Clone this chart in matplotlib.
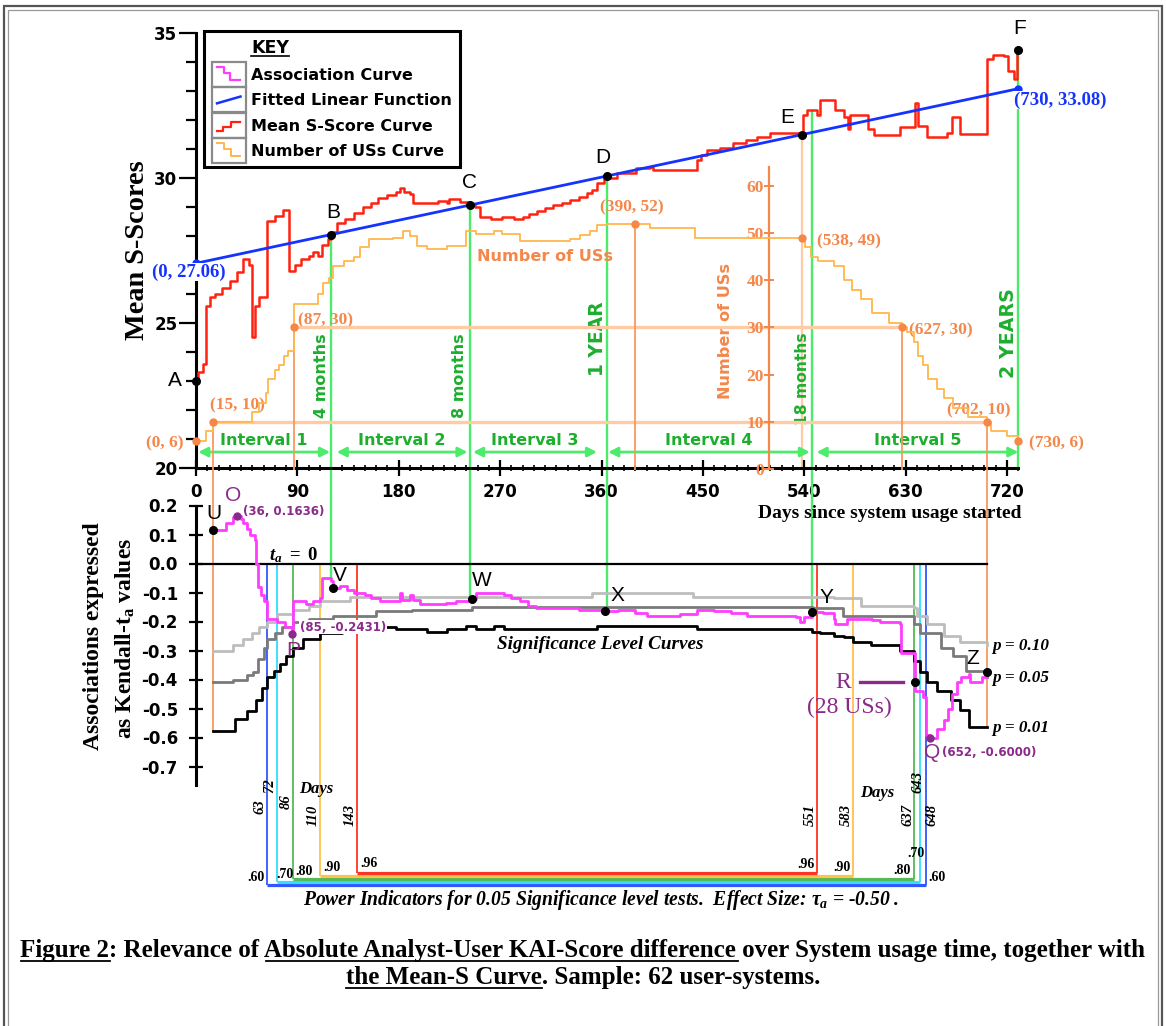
import numpy as np
import matplotlib
matplotlib.use("Agg")
import matplotlib.pyplot as plt
from matplotlib.lines import Line2D
from matplotlib.patches import Rectangle
from matplotlib.legend_handler import HandlerBase
from matplotlib.ticker import FixedLocator, FormatStrFormatter

plt.rcParams.update({
    "font.family": ["DejaVu Sans"],
    "font.weight": "bold",
    "mathtext.fontset": "custom",
    "mathtext.rm": "Liberation Serif:bold",
    "mathtext.it": "Liberation Serif:italic:bold",
    "mathtext.bf": "Liberation Serif:bold",
    "axes.unicode_minus": False,
})

# ---------------------------------------------------------------- data
mean_s_days = [0, 2, 6, 9, 12, 17, 23, 30, 36, 42, 47, 50, 52, 56, 63, 70, 77, 83, 88, 93,
               100, 104, 108, 112, 117, 120, 125, 132, 140, 148, 155, 162, 170, 178, 181, 185,
               190, 193, 215, 223, 225, 234, 243, 248, 252, 262, 272, 282, 290, 296, 303, 310,
               317, 325, 332, 340, 347, 352, 356, 362, 374, 391, 403, 406, 421, 445, 448, 454,
               465, 477, 488, 498, 510, 539, 542, 551, 554, 567, 575, 579, 581, 597, 602, 625,
               638, 641, 649, 667, 671, 678, 702, 708, 717, 721, 726, 729, 730]
mean_s_vals = [23.0, 23.3, 23.6, 25.6, 25.9, 26.0, 26.2, 26.45, 26.75, 27.2, 27.0, 24.5, 25.6, 25.9,
               28.5, 28.7, 28.9, 26.8, 27.0, 27.2, 27.3, 27.45, 27.3, 27.7, 27.9, 28.15, 28.45,
               28.6, 28.8, 29.0, 29.15, 29.3, 29.42, 29.5, 29.65, 29.5, 29.45, 29.14, 29.2, 29.14,
               29.26, 29.18, 29.1, 29.0, 28.67, 28.6, 28.65, 28.6, 28.67, 28.75, 28.85, 28.95,
               29.07, 29.15, 29.24, 29.35, 29.47, 29.6, 29.82, 30.0, 30.17, 30.34, 30.39, 30.28,
               30.28, 30.62, 30.79, 30.97, 31.05, 31.2, 31.3, 31.42, 31.54, 32.17, 32.34, 32.17,
               32.7, 32.34, 32.1, 31.7, 32.17, 31.7, 31.48, 31.77, 32.6, 31.8, 31.4, 31.55, 32.1,
               31.5, 34.1, 34.24, 34.2, 33.7, 33.4, 34.4, 34.4]

fit_days = [0, 730]
fit_vals = [27.06, 33.08]

uss_days = [0, 9, 15, 50, 56, 62, 64, 70, 74, 78, 82, 87, 108, 113, 118, 122, 131, 140, 146, 154,
            175, 184, 190, 196, 205, 223, 240, 249, 265, 272, 288, 332, 341, 350, 356, 365, 403,
            443, 538, 541, 546, 552, 566, 575, 582, 590, 600, 615, 627, 631, 637, 641, 645, 650,
            658, 664, 672, 685, 702, 706, 720, 730]
uss_vals = [6, 8, 10, 12, 14, 16, 19, 21, 22, 24, 25, 35, 37, 39.5, 40.5, 43, 44, 45, 47, 48.7,
            49, 50.5, 49.4, 47.3, 46.6, 47.3, 50.5, 49.8, 50.5, 49.8, 48.4, 48.8, 49.5, 50.5, 51.7,
            52, 51, 49, 49, 47, 45, 44, 43, 40, 38, 36, 33, 31, 30, 29, 27, 24, 22, 19, 17, 15,
            13, 11, 10, 8, 7, 6]

assoc_days = [15, 27, 33, 37, 40, 42, 45, 48, 52, 53, 55, 58, 60, 63, 72, 79, 85, 86, 98, 104,
              110, 112, 120, 122, 128, 134, 140, 150, 155, 163, 178, 181, 183, 190, 193, 199, 208,
              222, 231, 245, 249, 264, 273, 280, 288, 295, 302, 340, 363, 375, 390, 400, 430, 445,
              460, 475, 489, 510, 533, 536, 540, 547, 557, 566, 567, 578, 600, 607, 625, 626, 638,
              645, 648, 652, 658, 664, 668, 671, 676, 679, 686, 687, 698, 702]
assoc_vals = [0.117, 0.138, 0.159, 0.1636, 0.155, 0.14, 0.12, 0.10, 0.08, 0.0, -0.08, -0.11,
              -0.13, -0.19, -0.20, -0.22, -0.2431, -0.13, -0.14, -0.13, -0.12, -0.05, -0.06,
              -0.085, -0.076, -0.09, -0.10, -0.11, -0.12, -0.128, -0.13, -0.10, -0.125, -0.11,
              -0.125, -0.14, -0.139, -0.135, -0.128, -0.124, -0.10, -0.10, -0.11, -0.12, -0.13,
              -0.145, -0.155, -0.16, -0.164, -0.16, -0.17, -0.18, -0.175, -0.16, -0.165, -0.17,
              -0.18, -0.18, -0.185, -0.20, -0.185, -0.168, -0.17, -0.19, -0.21, -0.19, -0.195,
              -0.20, -0.21, -0.31, -0.44, -0.46, -0.59, -0.60, -0.57, -0.54, -0.50, -0.45, -0.41,
              -0.39, -0.38, -0.41, -0.39, -0.375]

p10_days = [15, 33, 42, 50, 56, 63, 72, 86, 100, 110, 137, 352, 441, 566, 590, 637, 640, 649,
            664, 678, 702]
p10_vals = [-0.30, -0.28, -0.26, -0.24, -0.22, -0.20, -0.175, -0.16, -0.145, -0.13, -0.117,
            -0.10, -0.115, -0.12, -0.145, -0.155, -0.18, -0.21, -0.25, -0.27, -0.28]
p05_days = [15, 33, 45, 51, 55, 60, 63, 70, 76, 86, 100, 122, 160, 192, 245, 548, 574, 637, 643,
            661, 672, 684, 702]
p05_vals = [-0.41, -0.40, -0.385, -0.375, -0.33, -0.29, -0.26, -0.24, -0.22, -0.20, -0.19, -0.18,
            -0.165, -0.16, -0.15, -0.155, -0.18, -0.21, -0.24, -0.29, -0.32, -0.37, -0.39]
p01_days = [15, 35, 45, 53, 59, 63, 69, 75, 80, 86, 95, 110, 130, 160, 178, 205, 223, 240, 249,
            265, 273, 356, 445, 547, 554, 566, 575, 583, 599, 625, 637, 643, 649, 658, 670, 678,
            686, 702]
p01_vals = [-0.576, -0.535, -0.51, -0.47, -0.43, -0.39, -0.37, -0.345, -0.32, -0.29, -0.26,
            -0.24, -0.23, -0.22, -0.225, -0.236, -0.225, -0.214, -0.225, -0.214, -0.225, -0.214,
            -0.225, -0.236, -0.24, -0.25, -0.255, -0.27, -0.28, -0.30, -0.335, -0.375, -0.41,
            -0.44, -0.47, -0.505, -0.565, -0.565]

day_ticks = [0, 90, 180, 270, 360, 450, 540, 630, 720]
s_ticks = [20, 25, 30, 35]
tau_ticks = [0.2, 0.1, 0.0, -0.1, -0.2, -0.3, -0.4, -0.5, -0.6, -0.7]
uss_ticks = [0, 10, 20, 30, 40, 50, 60]

milestone_days = [120, 243, 365, 547, 730]
milestone_labels = ["4 months", "8 months", "1 YEAR", "18 months", "2 YEARS"]
interval_labels = ["Interval 1", "Interval 2", "Interval 3", "Interval 4", "Interval 5"]
interval_starts = [2, 125, 246, 366, 551]
interval_ends = [119, 241, 356, 545, 730]

uss_point_days = [0, 15, 87, 390, 538, 627, 702, 730]
uss_point_vals = [6, 10, 30, 52, 49, 30, 10, 6]

upper_point_names = ["B", "C", "D", "E"]
upper_point_days = [120, 243, 365, 538]
a_point = (0, 23.0)
f_point = (730, 34.4)

lower_black_names = ["U", "V", "W", "X", "Y", "R", "Z"]
lower_black_days = [15, 122, 245, 363, 547, 638, 702]
lower_black_vals = [0.117, -0.085, -0.124, -0.164, -0.168, -0.41, -0.375]
lower_purple_names = ["O", "P", "Q"]
lower_purple_days = [36, 85, 652]
lower_purple_vals = [0.1636, -0.2431, -0.6000]

power_labels = [".60", ".70", ".80", ".90", ".96"]
power_left_days = [63, 72, 86, 110, 143]
power_right_days = [648, 643, 637, 583, 551]

# ---------------------------------------------------------------- styles
RED = "#FF2211"
BLUE = "#1533FF"
MAG = "#FF3DFF"
USS_C = "#FFB64C"
ORANGE = "#F4874A"
ORANGE_D = "#F79A5E"
ORANGE_L = "#FFCBA4"
GREEN_L = "#4DEB6C"
GREEN_T = "#1EAE2E"
PURPLE = "#8A2A8A"
POWER_COLORS = ["#3355FF", "#33DDFF", "#55B955", "#FFC24A", "#FF3322"]
SERIF = ["Liberation Serif", "DejaVu Serif"]
SANS = ["Liberation Sans", "DejaVu Sans"]

W, H = 1166, 1026
fig = plt.figure(figsize=(W / 100, H / 100), dpi=100)
fig.patch.set_facecolor("white")
renderer = fig.canvas.get_renderer()

X0_PX, PX_DAY = 196.0, 1.1264
AX_L, AX_R = 110, 1120
XLIM = ((AX_L - X0_PX) / PX_DAY, (AX_R - X0_PX) / PX_DAY)


def fig_rect(left, top, right, bottom):
    return [left / W, 1 - bottom / H, (right - left) / W, (bottom - top) / H]


def step_at(days, vals, d):
    i = int(np.searchsorted(days, d, side="right")) - 1
    return vals[max(i, 0)]


def fit_at(d):
    return float(np.interp(d, fit_days, fit_vals))


def measure(s, **kw):
    t = fig.text(0, 0, s, **kw)
    w = t.get_window_extent(renderer).width
    t.remove()
    return w


def fit_size(s, target, **kw):
    return 10.0 * target / measure(s, fontsize=10, **kw)


# ---------------------------------------------------------------- axes
UP_TOP, UP_BOT = 20, 470
S20_PX, PX_S = 468.0, 29.0
ax = fig.add_axes(fig_rect(AX_L, UP_TOP, AX_R, UP_BOT))
ax.set_xlim(XLIM)
ax.set_ylim(20 - (UP_BOT - S20_PX) / PX_S, 20 + (S20_PX - UP_TOP) / PX_S)
ax.patch.set_alpha(0)

axu = ax.twinx()
U0_PX, PX_U = 469.0, 4.72
axu.set_ylim((U0_PX - UP_BOT) / PX_U, (U0_PX - UP_TOP) / PX_U)
axu.patch.set_alpha(0)

LO_TOP, LO_BOT = 470, 915
T0_PX, PX_T = 563.5, 290.0
axl = fig.add_axes(fig_rect(AX_L, LO_TOP, AX_R, LO_BOT))
axl.set_xlim(XLIM)
axl.set_ylim((T0_PX - LO_BOT) / PX_T, (T0_PX - LO_TOP) / PX_T)
axl.patch.set_alpha(0)

# upper spines / ticks
for s in ["top", "right"]:
    ax.spines[s].set_visible(False)
ax.spines["left"].set_position(("data", 0))
ax.spines["left"].set_bounds(20, 35)
ax.spines["bottom"].set_position(("data", 20))
ax.spines["bottom"].set_bounds(0, 730)
for s in ["left", "bottom"]:
    ax.spines[s].set_linewidth(2.2)
ax.xaxis.set_major_locator(FixedLocator(day_ticks))
ax.xaxis.set_minor_locator(FixedLocator([d for d in range(0, 731, 10) if d % 90]))
ax.yaxis.set_major_locator(FixedLocator(s_ticks))
ax.yaxis.set_minor_locator(FixedLocator(list(range(20, 36))))
ax.tick_params(axis="x", which="major", direction="inout", length=11, width=1.6, pad=5, labelsize=12)
ax.tick_params(axis="x", which="minor", direction="inout", length=5, width=1.2)
ax.tick_params(axis="y", which="major", direction="out", length=12, width=1.6, pad=1.5, labelsize=12)
ax.tick_params(axis="y", which="minor", direction="out", length=7, width=1.6)

# USs axis
for s in ["top", "right", "bottom"]:
    axu.spines[s].set_visible(False)
axu.spines["left"].set_visible(True)
axu.spines["left"].set_position(("data", 509))
axu.spines["left"].set_bounds(0, 64)
axu.spines["left"].set_color(ORANGE)
axu.spines["left"].set_linewidth(1.6)
axu.yaxis.set_ticks_position("left")
axu.set_yticks(uss_ticks)
axu.tick_params(axis="y", direction="inout", length=7, width=1.4, colors=ORANGE, pad=0.5,
                labelsize=12.5, labelfontfamily="Liberation Serif")

# lower spines / ticks
for s in ["top", "right", "bottom"]:
    axl.spines[s].set_visible(False)
axl.spines["left"].set_position(("data", 0))
axl.spines["left"].set_bounds(-0.765, 0.2)
axl.spines["left"].set_linewidth(2.2)
axl.set_xticks([])
axl.yaxis.set_major_locator(FixedLocator(tau_ticks))
axl.yaxis.set_major_formatter(FormatStrFormatter("%.1f"))
axl.tick_params(axis="y", direction="inout", length=10, width=1.6, pad=8, labelsize=12)

# ---------------------------------------------------------------- upper marks
ybot_up = ax.get_ylim()[0]
axu.hlines(uss_point_vals[2], uss_point_days[2], uss_point_days[5], color=ORANGE_L, lw=2.4, zorder=1)
axu.hlines(uss_point_vals[1], uss_point_days[1], uss_point_days[6], color=ORANGE_L, lw=2.4, zorder=1)
for i in [1, 2, 3, 5, 6]:
    axu.vlines(uss_point_days[i], axu.get_ylim()[0], uss_point_vals[i], color=ORANGE_D, lw=1.3, zorder=1)
ax.vlines(upper_point_days[3], 20, fit_at(upper_point_days[3]), color=ORANGE_L, lw=1.6, zorder=1)

green_tops = [fit_at(milestone_days[0]), fit_at(milestone_days[1]), fit_at(milestone_days[2]),
              step_at(mean_s_days, mean_s_vals, milestone_days[3]),
              step_at(mean_s_days, mean_s_vals, milestone_days[4])]
ax.vlines(milestone_days, ybot_up, green_tops, color=GREEN_L, lw=1.7, zorder=2)

axu.plot(uss_days, uss_vals, drawstyle="steps-post", color=USS_C, lw=1.3, zorder=3)
ax.plot(mean_s_days, mean_s_vals, drawstyle="steps-post", color=RED, lw=1.8, zorder=4)
ax.plot(fit_days, fit_vals, color=BLUE, lw=2.0, zorder=5)
ax.plot(fit_days, fit_vals, "o", color=BLUE, ms=5, zorder=6)
ax.plot([a_point[0], f_point[0]], [a_point[1], f_point[1]], "o", color="black", ms=5.5, zorder=7)
ax.plot(upper_point_days, [fit_at(d) for d in upper_point_days], "o", color="black", ms=5.5, zorder=7)
axu.plot(uss_point_days, uss_point_vals, "o", color=ORANGE, ms=5, zorder=7)

# interval arrows
for s0, s1, lab in zip(interval_starts, interval_ends, interval_labels):
    ax.annotate("", xy=(s1, 20.55), xytext=(s0, 20.55),
                arrowprops=dict(arrowstyle="<|-|>,head_length=0.55,head_width=0.28", color=GREEN_L,
                                lw=2.0, shrinkA=0, shrinkB=0))
    ax.text((s0 + s1) / 2, 20.95, lab, ha="center", va="center", color=GREEN_T, fontsize=11.5)

# milestone labels (rotated)
mil_size = [11.5, 11.5, 13.5, 11.2, 13.7]
mil_y = [23.2, 23.2, 24.45, 23.07, 24.66]
for d, lab, fs, yy in zip(milestone_days, milestone_labels, mil_size, mil_y):
    ax.annotate(lab, xy=(d, yy), xytext=(-10, 0), textcoords="offset pixels", rotation=90,
                ha="center", va="center", color=GREEN_T, fontsize=fs)

# upper letters
LET = dict(fontfamily=SANS, fontweight="normal", fontsize=15, ha="center", va="center", color="black",
           zorder=9)
ax.text(-12.5, 23.0, "A", **{**LET, "ha": "right"})
for name, xy in zip(["B", "C", "D", "E", "F"],
                    [(121.6, 28.8), (243, 29.86), (361, 30.72), (525, 32.07), (731.5, 35.17)]):
    ax.text(xy[0], xy[1], name, **LET)

# blue / orange coordinate labels
WB = dict(facecolor="white", edgecolor="none", pad=0.3)
ax.text(-6, 26.76, "(0, 27.06)", ha="center", va="center", color=BLUE, fontsize=13.5, fontfamily=SERIF,
        zorder=8, bbox=WB)
ax.text(767, 32.69, "(730, 33.08)", ha="center", va="center", color=BLUE, fontsize=13.5,
        fontfamily=SERIF, zorder=8, bbox=WB)
orange_pos = [(-27.5, 20.86), (36.4, 22.17), (115.4, 25.1), (387, 29.0), (580, 27.8),
              (661, 24.76), (695, 22.0), (763.5, 20.86)]
for d, v, pos in zip(uss_point_days, uss_point_vals, orange_pos):
    ax.text(pos[0], pos[1], f"({d}, {v})", ha="center", va="center", color=ORANGE, fontsize=12.5,
            fontfamily=SERIF)
ax.text(310, 27.28, "Number of USs", ha="center", va="center", color=ORANGE, fontsize=11.6)
ax.text(470.5, 24.72, "Number of USs", ha="center", va="center", color=ORANGE, fontsize=11.6, rotation=90)

# ---------------------------------------------------------------- lower marks
ytop_lo = axl.get_ylim()[1]
axl.vlines([uss_point_days[1], uss_point_days[6]], [p01_vals[0], p01_vals[-1]], ytop_lo,
           color=ORANGE_D, lw=1.3, zorder=1)
tau_ends = [step_at(assoc_days, assoc_vals, d) for d in milestone_days[:4]]
axl.vlines(milestone_days[:4], tau_ends, ytop_lo, color=GREEN_L, lw=1.7, zorder=2)

level_step = 3.0 / PX_T
levels = [-1.067 - (4 - i) * level_step for i in range(5)]
for i in range(5):
    c = POWER_COLORS[i]
    axl.vlines([power_left_days[i], power_right_days[i]], levels[i], 0, color=c, lw=1.3, zorder=1)
    axl.hlines(levels[i], power_left_days[i], power_right_days[i], color=c, lw=2.3, zorder=1)

axl.plot([0, assoc_days[-1]], [0, 0], color="black", lw=1.6, zorder=3)
axl.plot(p10_days, p10_vals, drawstyle="steps-post", color="#BDBDBD", lw=2.0, zorder=3)
axl.plot(p05_days, p05_vals, drawstyle="steps-post", color="#7A7A7A", lw=2.0, zorder=3)
axl.plot(p01_days, p01_vals, drawstyle="steps-post", color="black", lw=2.0, zorder=3)
axl.plot(assoc_days, assoc_vals, drawstyle="steps-post", color=MAG, lw=2.0, zorder=4)
axl.plot(lower_black_days, lower_black_vals, "o", color="black", ms=5.5, zorder=6)
axl.plot(lower_purple_days, lower_purple_vals, "o", color=PURPLE, ms=5, zorder=6)

black_pos = [(16, 0.174), (128, -0.04), (254, -0.057), (374, -0.109), (560, -0.116), None, (690, -0.326)]
for name, pos in zip(lower_black_names, black_pos):
    if pos is not None:
        axl.text(pos[0], pos[1], name, **LET)
purple_pos = [(33, 0.236), (86, -0.30), (653.5, -0.653)]
for name, pos in zip(lower_purple_names, purple_pos):
    axl.text(pos[0], pos[1], name, **{**LET, "color": PURPLE})
PL = dict(color=PURPLE, fontsize=8.5, ha="left", va="center", zorder=8)
axl.text(41.7, 0.181, f"({lower_purple_days[0]}, {lower_purple_vals[0]:.4f})", **PL)
axl.text(92.3, -0.219, f"({lower_purple_days[1]}, {lower_purple_vals[1]:.4f})",
         bbox=dict(facecolor="white", edgecolor="none", pad=0.3), **PL)
axl.text(662, -0.653, f"({lower_purple_days[2]}, {lower_purple_vals[2]:.4f})", **PL)

# R annotation
axl.text(574.4, -0.412, "R", color=PURPLE, fontsize=17, fontfamily=SERIF, fontweight="normal",
         ha="center", va="center")
axl.plot([589.5, 627.6], [-0.41, -0.41], color=PURPLE, lw=2.4)
axl.text(580, -0.495, "(28 USs)", color=PURPLE, fontsize=17, fontfamily=SERIF, fontweight="normal",
         ha="center", va="center")

axl.text(87, 0.03, r"$t_a\ =\ 0$", ha="center", va="center", fontsize=13.5, color="black")
sig_fs = fit_size("Significance Level Curves", 206, fontfamily=SERIF, fontstyle="italic")
axl.text(358.7, -0.281, "Significance Level Curves", ha="center", va="center", fontsize=sig_fs,
         fontfamily=SERIF, fontstyle="italic")
for lab, yy in zip(["p = 0.10", "p = 0.05", "p = 0.01"], [-0.284, -0.395, -0.567]):
    axl.text(706.7, yy, lab, ha="left", va="center", fontsize=12.3, fontfamily=SERIF, fontstyle="italic")

# day labels for power lines
DL = dict(rotation=90, ha="center", va="center", fontsize=10.5, fontfamily=SERIF, fontstyle="italic",
          textcoords="offset pixels")
left_lab_y = [-0.84, -0.767, -0.822, -0.867, -0.867]
for d, yy in zip(power_left_days, left_lab_y):
    axl.annotate(str(d), xy=(d, yy), xytext=(-7, 0), **DL)
right_lab_y = [-0.867, -0.753, -0.867, -0.867, -0.867]
right_lab_dx = [6, -2, -6, -6, -6]
for d, yy, dx in zip(power_right_days, right_lab_y, right_lab_dx):
    axl.annotate(str(d), xy=(d, yy), xytext=(dx, 0), **DL)
axl.text(106.6, -0.777, "Days", ha="center", va="center", fontsize=12, fontfamily=SERIF, fontstyle="italic")
axl.text(604.6, -0.791, "Days", ha="center", va="center", fontsize=12, fontfamily=SERIF, fontstyle="italic")

PWL = dict(fontsize=10, fontfamily=SERIF, va="bottom", textcoords="offset pixels")
left_off = {0: (-2, 1, "right"), 1: (-1, 1, "left"), 2: (3, 1, "left"), 3: (3, 2, "left"), 4: (3, 3, "left")}
for i in range(5):
    dx, dy, ha = left_off[i]
    axl.annotate(power_labels[i], xy=(power_left_days[i], levels[i]), xytext=(dx, dy), ha=ha, **PWL)
right_off = {0: (2, 1, "left"), 1: (4, 22, "right"), 2: (-3, 2, "right"), 3: (-2, 2, "right"), 4: (-2, 2, "right")}
for i in range(5):
    dx, dy, ha = right_off[i]
    axl.annotate(power_labels[i], xy=(power_right_days[i], levels[i]), xytext=(dx, dy), ha=ha, **PWL)

pw_text = r"Power Indicators for 0.05 Significance level tests.  Effect Size: $\tau_a$ = -0.50 ."
pw_fs = fit_size(pw_text, 597, fontfamily=SERIF, fontstyle="italic")
fig.text(601 / W, 1 - 900 / H, pw_text, ha="center", va="center", fontsize=pw_fs,
         fontfamily=SERIF, fontstyle="italic")

# ---------------------------------------------------------------- axis titles
ms_fs = fit_size("Mean S-Scores", 180, fontfamily=SERIF)
fig.text(137 / W, 1 - 250 / H, "Mean S-Scores", rotation=90, ha="center", va="center",
         fontsize=ms_fs, fontfamily=SERIF)
as_fs = fit_size("Associations expressed", 228, fontfamily=SERIF)
fig.text(94 / W, 1 - 636 / H, "Associations expressed", rotation=90, ha="center", va="center",
         fontsize=as_fs, fontfamily=SERIF)
fig.text(125 / W, 1 - 638 / H, r"as Kendall-t$_{\mathrm{a}}$ values", rotation=90, ha="center",
         va="center", fontsize=as_fs, fontfamily=SERIF)
dx_fs = fit_size("Days since system usage started", 264, fontfamily=SERIF)
fig.text(1022 / W, 1 - 513 / H, "Days since system usage started", ha="right", va="center",
         fontsize=dx_fs, fontfamily=SERIF)

# ---------------------------------------------------------------- key
icon_handles = [
    Line2D([0, .3, .3, .55, .55, 1], [1, 1, .55, .55, .1, .1], color=MAG, lw=1.6),
    Line2D([0, 1], [0.25, 0.7], color=BLUE, lw=1.8),
    Line2D([0, .25, .25, .6, .6, 1], [.1, .1, .4, .4, .7, .7], color=RED, lw=1.6),
    Line2D([0, .3, .3, .6, .6, 1], [1, 1, .6, .6, .15, .15], color=USS_C, lw=1.4),
]
key_handle = Line2D([], [], linestyle="none")


class KeyIcon(HandlerBase):
    def create_artists(self, legend, orig, xdescent, ydescent, width, height, fontsize, trans):
        x0, y0 = -xdescent, -ydescent
        bh = height * 1.75
        by = y0 + height / 2 - bh / 2
        rect = Rectangle((x0, by), width, bh, fill=False, ec="#8a8a8a", lw=1.6, transform=trans)
        xs = x0 + width * (0.15 + 0.7 * np.asarray(orig.get_xdata(), float))
        ys = by + bh * (0.2 + 0.6 * np.asarray(orig.get_ydata(), float))
        ln = Line2D(xs, ys, color=orig.get_color(), lw=orig.get_linewidth(), transform=trans)
        return [rect, ln]


leg = axl.legend([key_handle] + icon_handles,
                 ["KEY", "Association Curve", "Fitted Linear Function", "Mean S-Score Curve",
                  "Number of USs Curve"],
                 loc="upper left", bbox_to_anchor=(204 / W, 1 - 31 / H), bbox_transform=fig.transFigure,
                 borderaxespad=0, frameon=True, fancybox=False, edgecolor="black", framealpha=1,
                 prop=dict(family="DejaVu Sans", weight="bold", size=11.5), handlelength=2.1,
                 handleheight=1.0, handletextpad=0.35, labelspacing=0.62, borderpad=0.5,
                 handler_map={h: KeyIcon() for h in icon_handles})
leg.get_frame().set_linewidth(2.2)
leg.get_texts()[0].set_fontsize(12.5)

fig.canvas.draw()
kb = leg.get_texts()[0].get_window_extent(renderer)
fig.add_artist(Line2D([kb.x0 / W, kb.x1 / W], [(kb.y0 + 1) / H, (kb.y0 + 1) / H],
                      transform=fig.transFigure, color="black", lw=1.2))

# ---------------------------------------------------------------- caption


def adv(s, **kw):
    if not s:
        return 0.0
    return measure(s + "|", **kw) - measure("|", **kw)


CAP = dict(fontfamily=SERIF)
cap1 = "Figure 2: Relevance of Absolute Analyst-User KAI-Score difference over System usage time, together with"
cap2 = "the Mean-S Curve. Sample: 62 user-systems."
cap_fs = fit_size(cap1, 1133, **CAP)
for text, base, subs in [(cap1, 957, ["Figure 2", "Absolute Analyst-User KAI-Score difference"]),
                         (cap2, 984, ["the Mean-S Curve"])]:
    t = fig.text(583 / W, 1 - base / H, text, ha="center", va="baseline", fontsize=cap_fs, **CAP)
    bb = t.get_window_extent(renderer)
    for sub in subs:
        i = text.index(sub)
        xs = bb.x0 + adv(text[:i], fontsize=cap_fs, **CAP)
        xe = xs + adv(sub, fontsize=cap_fs, **CAP)
        yu = (H - base - 4) / H
        fig.add_artist(Line2D([xs / W, xe / W], [yu, yu], transform=fig.transFigure, color="black", lw=1.3))

# ---------------------------------------------------------------- frame
fig.add_artist(Rectangle((4 / W, -0.1), (1162 - 4) / W, (H - 6) / H + 0.1, transform=fig.transFigure,
                         fill=False, ec="#555555", lw=1.6))
fig.add_artist(Rectangle((8 / W, -0.1), (1158 - 8) / W, (H - 10) / H + 0.1, transform=fig.transFigure,
                         fill=False, ec="#999999", lw=0.9))

fig.savefig("out.png", dpi=100, facecolor="white")
